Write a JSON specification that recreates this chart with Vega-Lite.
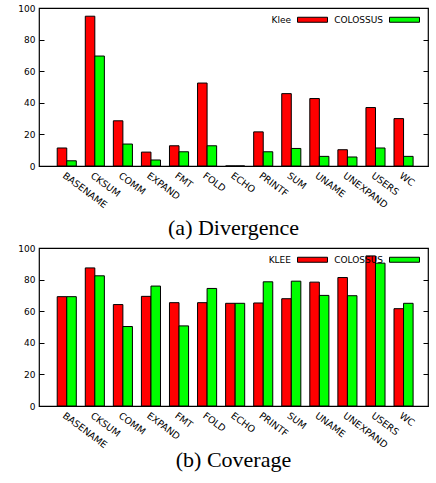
{
  "$schema": "https://vega.github.io/schema/vega-lite/v6.json",
  "padding": {"left": 17, "top": 3, "right": 5, "bottom": 2},
  "spacing": 3,
  "background": "white",
  "datasets": {
    "divergence": [
      {"program": "BASENAME", "tool": "Klee", "value": 11.4},
      {"program": "BASENAME", "tool": "COLOSSUS", "value": 3.3},
      {"program": "CKSUM", "tool": "Klee", "value": 94.8},
      {"program": "CKSUM", "tool": "COLOSSUS", "value": 69.6},
      {"program": "COMM", "tool": "Klee", "value": 28.6},
      {"program": "COMM", "tool": "COLOSSUS", "value": 13.9},
      {"program": "EXPAND", "tool": "Klee", "value": 8.8},
      {"program": "EXPAND", "tool": "COLOSSUS", "value": 3.8},
      {"program": "FMT", "tool": "Klee", "value": 12.8},
      {"program": "FMT", "tool": "COLOSSUS", "value": 9.0},
      {"program": "FOLD", "tool": "Klee", "value": 52.5},
      {"program": "FOLD", "tool": "COLOSSUS", "value": 12.8},
      {"program": "ECHO", "tool": "Klee", "value": 0},
      {"program": "ECHO", "tool": "COLOSSUS", "value": 0},
      {"program": "PRINTF", "tool": "Klee", "value": 21.6},
      {"program": "PRINTF", "tool": "COLOSSUS", "value": 9.0},
      {"program": "SUM", "tool": "Klee", "value": 45.8},
      {"program": "SUM", "tool": "COLOSSUS", "value": 11.1},
      {"program": "UNAME", "tool": "Klee", "value": 42.7},
      {"program": "UNAME", "tool": "COLOSSUS", "value": 6.1},
      {"program": "UNEXPAND", "tool": "Klee", "value": 10.3},
      {"program": "UNEXPAND", "tool": "COLOSSUS", "value": 5.7},
      {"program": "USERS", "tool": "Klee", "value": 37.0},
      {"program": "USERS", "tool": "COLOSSUS", "value": 11.4},
      {"program": "WC", "tool": "Klee", "value": 30.0},
      {"program": "WC", "tool": "COLOSSUS", "value": 6.1}
    ],
    "coverage": [
      {"program": "BASENAME", "tool": "KLEE", "value": 69.2},
      {"program": "BASENAME", "tool": "COLOSSUS", "value": 69.2},
      {"program": "CKSUM", "tool": "KLEE", "value": 87.4},
      {"program": "CKSUM", "tool": "COLOSSUS", "value": 82.4},
      {"program": "COMM", "tool": "KLEE", "value": 64.2},
      {"program": "COMM", "tool": "COLOSSUS", "value": 50.3},
      {"program": "EXPAND", "tool": "KLEE", "value": 69.4},
      {"program": "EXPAND", "tool": "COLOSSUS", "value": 75.9},
      {"program": "FMT", "tool": "KLEE", "value": 65.4},
      {"program": "FMT", "tool": "COLOSSUS", "value": 50.7},
      {"program": "FOLD", "tool": "KLEE", "value": 65.4},
      {"program": "FOLD", "tool": "COLOSSUS", "value": 74.4},
      {"program": "ECHO", "tool": "KLEE", "value": 65.0},
      {"program": "ECHO", "tool": "COLOSSUS", "value": 65.0},
      {"program": "PRINTF", "tool": "KLEE", "value": 65.2},
      {"program": "PRINTF", "tool": "COLOSSUS", "value": 78.6},
      {"program": "SUM", "tool": "KLEE", "value": 67.9},
      {"program": "SUM", "tool": "COLOSSUS", "value": 79.0},
      {"program": "UNAME", "tool": "KLEE", "value": 78.4},
      {"program": "UNAME", "tool": "COLOSSUS", "value": 70.0},
      {"program": "UNEXPAND", "tool": "KLEE", "value": 81.3},
      {"program": "UNEXPAND", "tool": "COLOSSUS", "value": 69.8},
      {"program": "USERS", "tool": "KLEE", "value": 95.0},
      {"program": "USERS", "tool": "COLOSSUS", "value": 90.4},
      {"program": "WC", "tool": "KLEE", "value": 61.6},
      {"program": "WC", "tool": "COLOSSUS", "value": 65.0}
    ]
  },
  "vconcat": [
    {
      "width": 389,
      "height": 158,
      "data": {"name": "divergence"},
      "title": {"text": "(a) Divergence", "orient": "bottom", "font": "Liberation Serif", "fontSize": 22, "fontWeight": "normal", "color": "black", "offset": 9, "anchor": "middle"},
      "layer": [
        {
          "mark": {"type": "bar", "stroke": "black", "strokeWidth": 1, "width": {"band": 1}},
          "encoding": {
            "x": {"field": "program", "type": "nominal", "sort": null, "title": null,
              "scale": {"paddingInner": 0.32, "paddingOuter": 0.59, "align": 0.55},
              "axis": {"labelAngle": 37, "labelAlign": "left", "labelBaseline": "top", "ticks": false, "domain": false, "labelPadding": 4, "labelFontSize": 9.5}},
            "xOffset": {"field": "tool", "type": "nominal", "sort": ["Klee", "COLOSSUS"], "scale": {"domain": ["Klee", "COLOSSUS"], "paddingInner": 0, "paddingOuter": 0}},
            "y": {"field": "value", "type": "quantitative", "title": null,
              "scale": {"domain": [0, 100], "nice": false},
              "axis": {"values": [0, 20, 40, 60, 80, 100], "tickSize": -5, "labelPadding": 9, "domain": false, "grid": false}},
            "color": {"field": "tool", "type": "nominal", "sort": ["Klee", "COLOSSUS"],
              "scale": {"domain": ["Klee", "COLOSSUS"], "range": ["#ff0000", "#00ff00"]},
              "legend": {"title": null, "orient": "top-right", "direction": "horizontal", "offset": 6,
                "symbolType": "M-3,-0.5L3,-0.5L3,0.5L-3,0.5Z", "symbolSize": 100,
                "symbolStrokeColor": "black", "symbolStrokeWidth": 1, "symbolOpacity": 1,
                "labelAlign": "right", "labelOffset": -27, "columnPadding": 4}}
          }
        },
        {
          "mark": {"type": "tick", "opacity": 0},
          "encoding": {
            "y": {"field": "value", "type": "quantitative", "title": null,
              "scale": {"domain": [0, 100], "nice": false},
              "axis": {"orient": "right", "values": [0, 20, 40, 60, 80, 100], "tickSize": -5, "labels": false, "domain": false, "grid": false}}
          }
        }
      ],
      "resolve": {"scale": {"y": "independent"}}
    },
    {
      "width": 389,
      "height": 158,
      "data": {"name": "coverage"},
      "title": {"text": "(b) Coverage", "orient": "bottom", "font": "Liberation Serif", "fontSize": 22, "fontWeight": "normal", "color": "black", "offset": 1, "anchor": "middle"},
      "layer": [
        {
          "mark": {"type": "bar", "stroke": "black", "strokeWidth": 1, "width": {"band": 1}},
          "encoding": {
            "x": {"field": "program", "type": "nominal", "sort": null, "title": null,
              "scale": {"paddingInner": 0.32, "paddingOuter": 0.59, "align": 0.55},
              "axis": {"labelAngle": 37, "labelAlign": "left", "labelBaseline": "top", "ticks": false, "domain": false, "labelPadding": 4, "labelFontSize": 9.5}},
            "xOffset": {"field": "tool", "type": "nominal", "sort": ["KLEE", "COLOSSUS"], "scale": {"domain": ["KLEE", "COLOSSUS"], "paddingInner": 0, "paddingOuter": 0}},
            "y": {"field": "value", "type": "quantitative", "title": null,
              "scale": {"domain": [0, 100], "nice": false},
              "axis": {"values": [0, 20, 40, 60, 80, 100], "tickSize": -5, "labelPadding": 9, "domain": false, "grid": false}},
            "color": {"field": "tool", "type": "nominal", "sort": ["KLEE", "COLOSSUS"],
              "scale": {"domain": ["KLEE", "COLOSSUS"], "range": ["#ff0000", "#00ff00"]},
              "legend": {"title": null, "orient": "top-right", "direction": "horizontal", "offset": 6,
                "symbolType": "M-3,-0.5L3,-0.5L3,0.5L-3,0.5Z", "symbolSize": 100,
                "symbolStrokeColor": "black", "symbolStrokeWidth": 1, "symbolOpacity": 1,
                "labelAlign": "right", "labelOffset": -27, "columnPadding": 4}}
          }
        },
        {
          "mark": {"type": "tick", "opacity": 0},
          "encoding": {
            "y": {"field": "value", "type": "quantitative", "title": null,
              "scale": {"domain": [0, 100], "nice": false},
              "axis": {"orient": "right", "values": [0, 20, 40, 60, 80, 100], "tickSize": -5, "labels": false, "domain": false, "grid": false}}
          }
        }
      ],
      "resolve": {"scale": {"y": "independent"}}
    }
  ],
  "resolve": {"scale": {"color": "independent", "xOffset": "independent"}, "legend": {"color": "independent"}},
  "config": {
    "font": "DejaVu Sans",
    "view": {"stroke": "black", "strokeWidth": 1.2},
    "scale": {"offsetBandPaddingInner": 0, "offsetBandPaddingOuter": 0},
    "axis": {"labelFont": "DejaVu Sans", "labelFontSize": 9, "labelColor": "black", "tickColor": "black", "tickWidth": 1},
    "legend": {"labelFont": "DejaVu Sans", "labelFontSize": 9, "labelColor": "black"}
  }
}
